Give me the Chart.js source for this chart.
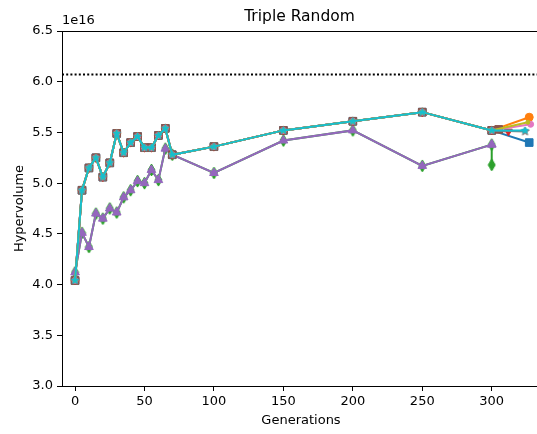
<!DOCTYPE html>
<html>
<head>
<meta charset="utf-8">
<script src="https://cdn.jsdelivr.net/npm/chart.js@4/dist/chart.umd.min.js"></script>
<style>
  html, body { margin: 0; padding: 0; background: #fff; }
  #wrap { width: 537px; height: 434px; }
</style>
</head>
<body>
<div id="wrap"><canvas id="hv" width="537" height="434"></canvas></div>
<script>
// Hypervolume values are in units of 1e16
const SCALE = 1e16;
const gens = [0, 5, 10, 15, 20, 25, 30, 35, 40, 45, 50, 55, 60, 65, 70, 100, 150, 200, 250, 300];
const hvUpper = [4.04, 4.93, 5.15, 5.25, 5.06, 5.20, 5.49, 5.30, 5.40, 5.46, 5.35, 5.35, 5.47, 5.54, 5.28, 5.36, 5.52, 5.61, 5.70, 5.52];
const hvLower = [4.12, 4.51, 4.37, 4.70, 4.65, 4.75, 4.71, 4.86, 4.93, 5.02, 5.00, 5.13, 5.03, 5.34, 5.28, 5.10, 5.42, 5.52, 5.17, 5.38];

// one entry per run
const runNames = ['run 1', 'run 2', 'run 3', 'run 4', 'run 5', 'run 6', 'run 7', 'run 8', 'run 9', 'run 10'];
const runPath = ['upper', 'upper', 'lower', 'upper', 'lower', 'upper', 'upper', 'upper', 'upper', 'upper'];
const finalGen = [327, 327, 300, 312, 300, 305, 328, 324, 326, 324];
const finalHV = [5.40, 5.65, 5.18, 5.51, 5.38, 5.53, 5.58, 5.51, 5.60, 5.52];
const refHV = 6.07;

const yTicks = [3.0, 3.5, 4.0, 4.5, 5.0, 5.5, 6.0, 6.5];
const xTicks = [0, 50, 100, 150, 200, 250, 300];

const colors = ['#1f77b4', '#ff7f0e', '#2ca02c', '#d62728', '#9467bd',
                '#8c564b', '#e377c2', '#7f7f7f', '#bcbd22', '#17becf'];

function starImage(color, outer, inner) {
  const s = Math.ceil(outer * 2 + 2);
  const c = document.createElement('canvas');
  c.width = s; c.height = s;
  const g = c.getContext('2d');
  g.translate(s / 2, s / 2);
  g.beginPath();
  for (let i = 0; i < 10; i++) {
    const r = i % 2 === 0 ? outer : inner;
    const a = -Math.PI / 2 + i * Math.PI / 5;
    g.lineTo(r * Math.cos(a), r * Math.sin(a));
  }
  g.closePath();
  g.fillStyle = color; g.fill();
  g.lineWidth = 1; g.strokeStyle = color; g.stroke();
  return c;
}

function thinDiamondImage(color, w, h) {
  const c = document.createElement('canvas');
  c.width = Math.ceil(w + 2); c.height = Math.ceil(h + 2);
  const g = c.getContext('2d');
  g.translate(c.width / 2, c.height / 2);
  g.beginPath();
  g.moveTo(0, -h / 2); g.lineTo(w / 2, 0); g.lineTo(0, h / 2); g.lineTo(-w / 2, 0);
  g.closePath();
  g.fillStyle = color; g.fill();
  g.lineWidth = 1; g.strokeStyle = color; g.stroke();
  return c;
}

const markers = [
  { style: 'rect', r: 5.4 },
  { style: 'circle', r: 4 },
  { style: thinDiamondImage(colors[2], 7, 12), r: 6 },
  { style: 'triangle', r: 4.5, rot: 180 },
  { style: 'triangle', r: 5 },
  { style: 'rect', r: 5.4 },
  { style: 'circle', r: 3 },
  { style: starImage(colors[7], 4.5, 1.9), r: 4 },
  { style: 'circle', r: 2 },
  { style: starImage(colors[9], 3.5, 1.5), r: 3 }
];

const datasets = runNames.map((name, i) => {
  const base = runPath[i] === 'upper' ? hvUpper : hvLower;
  const pts = gens.map((g, k) => ({ x: g, y: base[k] * SCALE }));
  pts.push({ x: finalGen[i], y: finalHV[i] * SCALE });
  return {
    label: name,
    data: pts,
    borderColor: colors[i],
    backgroundColor: colors[i],
    pointBackgroundColor: colors[i],
    pointBorderColor: colors[i],
    borderWidth: 2,
    pointBorderWidth: 1,
    pointStyle: markers[i].style,
    pointRadius: markers[i].r,
    pointRotation: markers[i].rot || 0,
    tension: 0,
    fill: false,
    order: 20 - i
  };
});

const X_MIN = -9.4, X_MAX = 332.6;

datasets.push({
  label: 'reference',
  data: [{ x: X_MIN, y: refHV * SCALE }, { x: X_MAX, y: refHV * SCALE }],
  borderColor: '#000',
  borderWidth: 2,
  borderDash: [2, 2.2],
  pointRadius: 0,
  fill: false,
  order: 30
});

const FONT = "'DejaVu Sans', sans-serif";

const decor = {
  id: 'decor',
  afterDraw(chart) {
    const { ctx, chartArea: a } = chart;
    ctx.save();
    // top spine
    ctx.strokeStyle = '#000';
    ctx.lineWidth = 1;
    ctx.beginPath();
    ctx.moveTo(a.left, a.top + 0.5);
    ctx.lineTo(a.right, a.top + 0.5);
    ctx.stroke();

    ctx.fillStyle = '#000';
    ctx.textBaseline = 'middle';
    ctx.textAlign = 'center';
    ctx.font = '15.5px ' + FONT;
    ctx.fillText('Triple Random', (a.left + a.right) / 2, 17);

    ctx.font = '13px ' + FONT;
    ctx.fillText('Generations', 301, 421);

    ctx.textAlign = 'left';
    ctx.fillText('1e16', a.left, 21);

    ctx.translate(20, (a.top + a.bottom) / 2);
    ctx.rotate(-Math.PI / 2);
    ctx.textAlign = 'center';
    ctx.fillText('Hypervolume', 0, 0);
    ctx.restore();
  }
};

new Chart(document.getElementById('hv'), {
  type: 'line',
  data: { datasets },
  options: {
    responsive: false,
    animation: false,
    devicePixelRatio: 1,
    layout: { autoPadding: false, padding: { top: 31, right: 0, left: 0, bottom: 0 } },
    plugins: { legend: { display: false }, tooltip: { enabled: false }, title: { display: false } },
    scales: {
      x: {
        type: 'linear',
        min: X_MIN,
        max: X_MAX,
        afterBuildTicks: s => { s.ticks = xTicks.map(v => ({ value: v })); },
        afterFit: s => { s.height = 48; },
        ticks: { color: '#000', font: { family: FONT, size: 13 }, padding: 3, maxRotation: 0, autoSkip: false },
        grid: { drawOnChartArea: false, drawTicks: true, tickLength: 5, tickColor: '#000', tickWidth: 1 },
        border: { display: true, color: '#000', width: 1 }
      },
      y: {
        type: 'linear',
        min: 3.0 * SCALE,
        max: 6.5 * SCALE,
        afterBuildTicks: s => { s.ticks = yTicks.map(v => ({ value: v * SCALE })); },
        afterFit: s => { s.width = 62; },
        ticks: {
          color: '#000', font: { family: FONT, size: 13 }, padding: 4, autoSkip: false,
          callback: v => (v / SCALE).toFixed(1)
        },
        grid: { drawOnChartArea: false, drawTicks: true, tickLength: 5, tickColor: '#000', tickWidth: 1 },
        border: { display: true, color: '#000', width: 1 }
      }
    }
  },
  plugins: [decor]
});
</script>
</body>
</html>
